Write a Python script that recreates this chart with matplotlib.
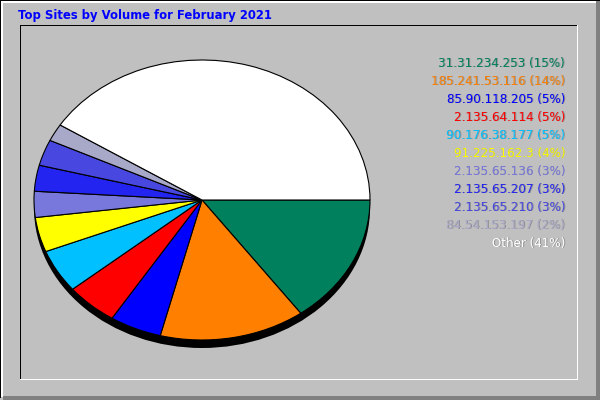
import numpy as np
import matplotlib
matplotlib.use("Agg")
import matplotlib.pyplot as plt
from matplotlib.patches import Rectangle, Ellipse

# data
title = "Top Sites by Volume for February 2021"
sites = ["31.31.234.253", "185.241.53.116", "85.90.118.205", "2.135.64.114",
         "90.176.38.177", "91.225.162.3", "2.135.65.136", "2.135.65.207",
         "2.135.65.210", "84.54.153.197", "Other"]
percents = [15, 14, 5, 5, 5, 4, 3, 3, 3, 2, 41]
colors = ["#00805c", "#ff8000", "#0000ff", "#ff0000", "#00c0ff", "#ffff00",
          "#7878dc", "#2424f0", "#4848e0", "#a8a8c8", "#ffffff"]

W, H = 600, 400
fig = plt.figure(figsize=(6, 4), dpi=100, facecolor="#c0c0c0")

# background axes in pixel coordinates for the frame
bg = fig.add_axes([0, 0, 1, 1])
bg.set_xlim(0, W)
bg.set_ylim(H, 0)
bg.axis("off")

def box(x, y, w, h, c):
    bg.add_patch(Rectangle((x, y), w, h, facecolor=c, edgecolor="none", lw=0))

# outer bevel
box(0, 0, W, 1, "black")
box(0, 0, 1, H - 2, "black")
box(1, 1, W - 4, 2, "white")
box(1, 1, 2, H - 4, "white")
box(W - 4, 1, 4, H - 1, "#808080")
box(3, H - 4, W - 3, 4, "#808080")

# inner panel
box(20, 25, 558, 1, "black")
box(20, 25, 1, 355, "black")
box(577, 25, 1, 355, "white")
box(20, 379, 558, 1, "white")

bg.text(18, 15, title, color="#0000ff", fontsize=8.35, fontweight="bold",
        ha="left", va="center")

# legend on the right, with a small grey shadow
for i, (s, p, c) in enumerate(zip(sites, percents, colors)):
    label = f"{s} ({p}%)"
    y = 63 + i * 18
    bg.text(566, y + 1, label, color="#909090", fontsize=8.6, ha="right", va="center")
    bg.text(565, y, label, color=c, fontsize=8.6, ha="right", va="center")

# pie, stretched into an ellipse
cx, cy, rx, ry = 202, 200, 168, 140
ax = fig.add_axes([(cx - rx) / W, 1 - (cy + ry) / H, 2 * rx / W, 2 * ry / H])
ax.add_patch(Ellipse((0, -8 / ry), 2, 2, facecolor="black", edgecolor="none",
                     zorder=0, clip_on=False))
ax.pie(percents, colors=colors, startangle=0, counterclock=False,
       wedgeprops=dict(edgecolor="black", linewidth=0.8))
ax.set_aspect("auto")
ax.set_xlim(-1, 1)
ax.set_ylim(-1, 1)
ax.axis("off")

fig.savefig("out.png", dpi=100, facecolor=fig.get_facecolor())
